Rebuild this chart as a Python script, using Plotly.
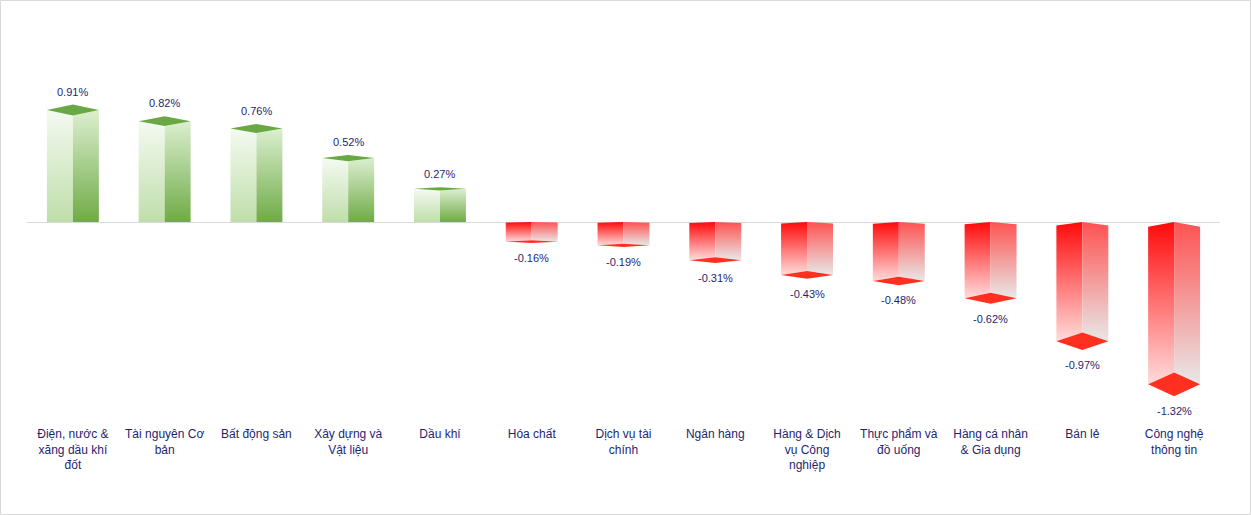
import plotly.graph_objects as go

categories = [
    "Điện, nước &<br>xăng dầu khí<br>đốt", "Tài nguyên Cơ<br>bản", "Bất động sản",
    "Xây dựng và<br>Vật liệu", "Dầu khí", "Hóa chất", "Dịch vụ tài<br>chính",
    "Ngân hàng", "Hàng & Dịch<br>vụ Công<br>nghiệp", "Thực phẩm và<br>đồ uống",
    "Hàng cá nhân<br>& Gia dụng", "Bán lẻ", "Công nghệ<br>thông tin",
]
values = [0.91, 0.82, 0.76, 0.52, 0.27, -0.16, -0.19, -0.31, -0.43, -0.48, -0.62, -0.97, -1.32]
labels = [f"{v:.2f}%" for v in values]

W, H = 1251, 515
ML, MR, MT, MB = 27, 31, 0, 90
PW, PH = W - ML - MR, H - MT - MB
BASE_PX = 222          # pixel row of zero line
PX_PER_UNIT = 123      # pixels per 1 percentage point
y_top = (BASE_PX - MT) / PX_PER_UNIT
y_bot = -(MT + PH - BASE_PX) / PX_PER_UNIT

w = 0.283  # half width of a column, in category units
TXT = "#1f1f6e"
FONT = "Liberation Sans"

fig = go.Figure()


def face(xs, ys, c_low, c_high, y_low, y_high):
    fig.add_trace(go.Scatter(
        x=xs + [xs[0]], y=ys + [ys[0]], mode="lines", fill="toself",
        line=dict(width=0), hoverinfo="skip", showlegend=False,
        fillgradient=dict(type="vertical", colorscale=[[0, c_low], [1, c_high]],
                          start=y_low, stop=y_high),
    ))


def solid(xs, ys, color):
    fig.add_trace(go.Scatter(
        x=xs + [xs[0]], y=ys + [ys[0]], mode="lines", fill="toself",
        fillcolor=color, line=dict(width=0), hoverinfo="skip", showlegend=False,
    ))


annotations = []
for i, v in enumerate(values):
    if v >= 0:
        d = 0.049 * v
        face([i - w, i, i, i - w], [0, 0, v - d, v], "#bfdeaa", "#f4faf1", 0, v)
        face([i, i + w, i + w, i], [0, 0, v, v - d], "#6fab46", "#dcefd0", 0, v)
        solid([i - w, i, i + w, i], [v, v + d, v, v - d], "#6aa844")
        annotations.append(dict(x=i, y=v + d, yshift=13, text=labels[i], showarrow=False,
                                yanchor="middle", font=dict(size=11, color=TXT, family=FONT)))
    else:
        d = 0.073 * abs(v)
        e = 0.4 * d
        face([i - w, i, i, i - w], [-e, 0, v + d, v], "#ffdcdc", "#ff0a0a", v, 0)
        face([i, i + w, i + w, i], [0, -e, v, v + d], "#e8e8e8", "#ff5252", v, 0)
        solid([i - w, i, i + w, i], [v, v + d, v, v - d], "#ff3020")
        annotations.append(dict(x=i, y=v - d, yshift=-15, text=labels[i], showarrow=False,
                                yanchor="middle", font=dict(size=11, color=TXT, family=FONT)))

shapes = [dict(
    type="rect", xref="paper", yref="paper",
    x0=(0.5 - ML) / PW, x1=(W - 0.5 - ML) / PW,
    y0=(MT + PH - (H - 0.5)) / PH, y1=(MT + PH - 0.5) / PH,
    line=dict(color="#d9d9d9", width=1), fillcolor="rgba(0,0,0,0)", layer="below",
)]

fig.update_layout(
    width=W, height=H,
    margin=dict(l=ML, r=MR, t=MT, b=MB, pad=0),
    paper_bgcolor="white", plot_bgcolor="white",
    showlegend=False,
    font=dict(family=FONT, size=12, color=TXT),
    annotations=annotations,
    shapes=shapes,
    xaxis=dict(
        range=[-0.5, len(values) - 0.5], tickmode="array",
        tickvals=list(range(len(values))), ticktext=categories,
        showgrid=False, zeroline=False, showline=False, ticks="",
        tickfont=dict(size=12, color=TXT, family=FONT), fixedrange=True,
    ),
    yaxis=dict(
        range=[y_bot, y_top], showgrid=False, showticklabels=False, ticks="",
        zeroline=True, zerolinecolor="#d9d9d9", zerolinewidth=1, showline=False,
        fixedrange=True,
    ),
)

fig.write_html(
    "out.html",
    config={"displayModeBar": False},
    post_script="document.body.style.margin='0';document.body.style.overflow='hidden';",
)
